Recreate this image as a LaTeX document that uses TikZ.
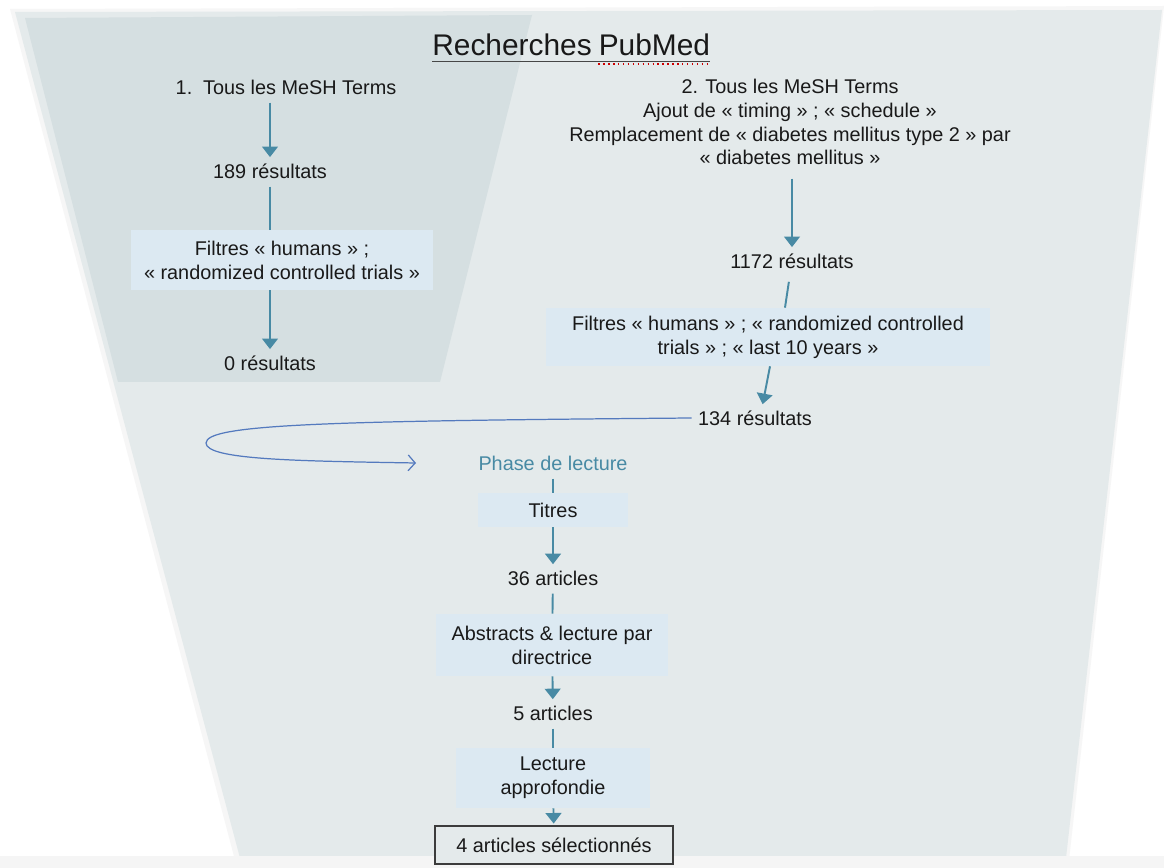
\documentclass[tikz,border=0pt]{standalone}
\usepackage{fontspec}
\setmainfont{Liberation Sans}
\usepackage{xcolor}
\usetikzlibrary{arrows.meta,positioning}
\definecolor{funnelgray}{RGB}{228,234,235}
\definecolor{panelgray}{RGB}{213,223,225}
\definecolor{boxblue}{RGB}{220,233,242}
\definecolor{arrowteal}{RGB}{72,138,164}
\definecolor{loopblue}{RGB}{84,122,190}
\definecolor{ink}{RGB}{25,25,25}
\tikzset{
  txt/.style={font=\fontsize{11.3}{13.6}\selectfont, text=ink, align=center, inner sep=1.5pt},
  filt/.style={txt, fill=boxblue},
  flow/.style={draw=arrowteal, line width=1.1pt, shorten <=3pt, shorten >=2pt,
    -{Triangle[width=9pt,length=6pt]}},
  link/.style={draw=arrowteal, line width=1.1pt, shorten <=3pt},
}

\begin{document}
\begin{tikzpicture}[x=0.02cm, y=-0.02cm]
  \useasboundingbox (0,0) rectangle (1164,868);

  % Background funnel and left panel
  \fill[white] (0,0) rectangle (1164,868);
  \fill[gray!7] (10,9) -- (1164,6) -- (1069,860) -- (235,860) -- cycle;
  \fill[funnelgray] (15,12) -- (1162,10) -- (1066,858) -- (240,858) -- cycle;
  \fill[panelgray] (25,18) -- (532,15) -- (440,382) -- (118,382) -- cycle;
  \fill[gray!8] (0,856) rectangle (1164,868);

  % Title
  \node[txt, font=\fontsize{17}{20}\selectfont, anchor=base west, inner sep=0] (rech) at (432,56) {Recherches};
  \node[txt, font=\fontsize{17}{20}\selectfont, anchor=base west, inner sep=0] (pubmed) at ([xshift=0.36em]rech.base east) {PubMed};
  \draw[ink!80, line width=0.8pt] ([yshift=-3pt]rech.base west) -- ([yshift=-3pt]pubmed.base east);
  \draw[red!80!black, line width=0.8pt, dotted] ([yshift=-4.5pt]pubmed.base west) -- ([yshift=-4.5pt]pubmed.base east);

  % Search 1
  \node[txt] (s1) at (286,87) {1.\hspace{0.55em}Tous les MeSH Terms};
  \node[txt] (r189) at (270,171) {189 résultats};
  \node[filt, minimum width=6.06cm, minimum height=1.2cm] (f1) at (282,260)
       {Filtres « humans » ;\\« randomized controlled trials »};
  \node[txt] (r0) at (270,363) {0 résultats};

  \draw[flow] (s1.south -| r189) -- (r189);
  \draw[link] (r189) -- (f1.north -| r189);
  \draw[flow, shorten <=0pt] (f1.south -| r189) -- (r0);

  % Search 2
  \node[txt] (s2) at (790,122)
       {2. Tous les MeSH Terms\\Ajout de « timing » ; « schedule »\\
        Remplacement de « diabetes mellitus type 2 » par\\« diabetes mellitus »};
  \node[txt] (r1172) at (792,261) {1172 résultats};
  \node[filt, minimum width=8.9cm, minimum height=1.16cm] (f2) at (768,337)
       {Filtres « humans » ; « randomized controlled\\trials » ; « last 10 years »};
  \node[txt] (r134) at (755,418) {134 résultats};

  \draw[flow, shorten <=6pt] (s2.south -| r1172) -- (r1172);
  \draw[link, shorten <=6pt] (r1172) -- ([xshift=0.34cm]f2.north);
  \draw[flow, shorten <=0pt] ([xshift=0.04cm]f2.south) -- ([xshift=0.14cm]r134.north);

  % Loop to reading phase
  \coordinate (turn) at (206,443);
  \coordinate (loopend) at (416,463);
  \draw[loopblue, line width=0.7pt, -{Straight Barb[length=4pt,width=9pt]}]
       ([xshift=-2pt]r134.west) .. controls (330,421) and (206,424) .. (turn)
       .. controls (206,460) and (300,461) .. (loopend);

  % Reading phase
  \node[txt, text=arrowteal] (phase) at (553,463) {Phase de lecture};
  \node[filt, minimum width=3.02cm, minimum height=0.68cm] (titres) at (553,510) {Titres};
  \node[txt] (a36) at (553,578) {36 articles};
  \node[filt, minimum width=4.64cm, minimum height=1.24cm] (abs) at (552,645)
       {Abstracts \& lecture par\\directrice};
  \node[txt] (a5) at (553,713) {5 articles};
  \node[filt, minimum width=3.9cm, minimum height=1.2cm] (lect) at (553,778)
       {Lecture\\approfondie};
  \node[txt, draw=ink!85, line width=0.8pt, fill=funnelgray, minimum width=4.76cm,
        minimum height=0.76cm] (sel) at (554,845) {4 articles sélectionnés};

  \draw[link] (phase) -- (titres);
  \draw[flow, shorten <=0pt] (titres) -- (a36);
  \draw[link] (a36) -- (abs);
  \draw[flow, shorten <=0pt] (abs) -- (a5);
  \draw[link] (a5) -- (lect);
  \draw[flow, shorten <=0pt, shorten >=1pt] (lect) -- (sel);
\end{tikzpicture}
\end{document}
